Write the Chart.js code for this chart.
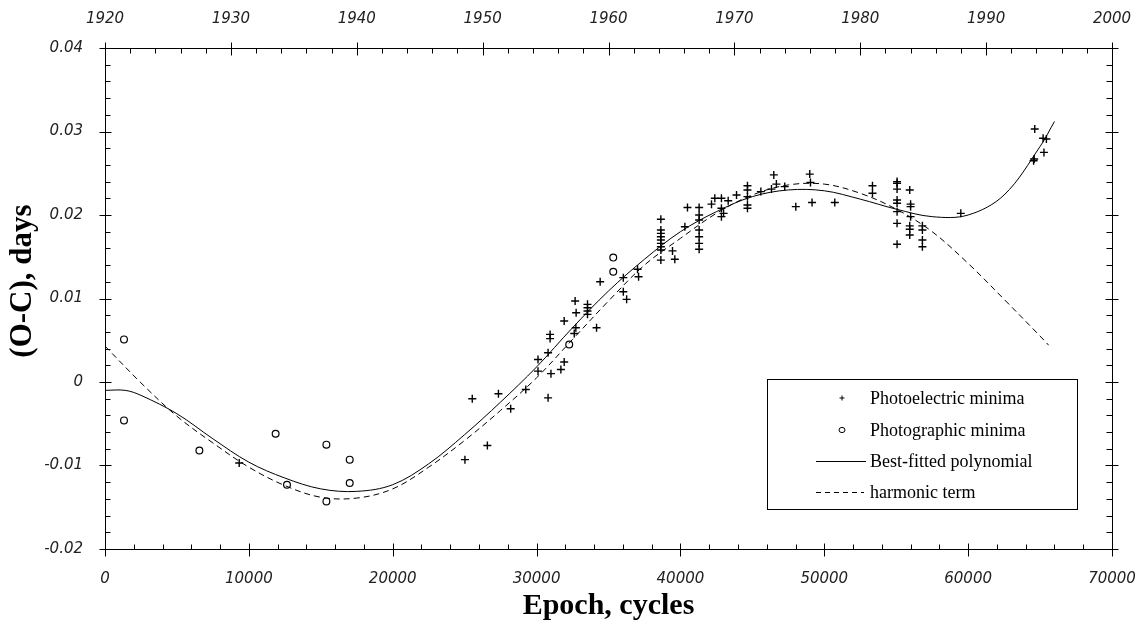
<!DOCTYPE html>
<html lang="en">
<head>
<meta charset="utf-8">
<title>(O-C) diagram</title>
<script src="https://cdn.jsdelivr.net/npm/chart.js@4.4.1/dist/chart.umd.min.js"></script>
<style>
    html, body { margin: 0; padding: 0; background: #fff; }
    #wrap { width: 1140px; height: 634px; }
</style>
</head>
<body>
<div id="wrap"><canvas id="oc-chart"></canvas></div>
<script>
'use strict';

/* ── Photoelectric minima (epoch, O-C in days) ── */
const PE_EPOCH = [
    9330, 25020, 25530, 26580, 27350, 28200, 29250, 30100, 30100, 30800,
    30800, 30940, 30940, 31000, 31690, 31920, 31920, 32620, 32730, 32680,
    32750, 33540, 33540, 33540, 33540, 34170, 34420, 36030, 36030, 36260,
    37020, 37090, 38640, 38640, 38640, 38640, 38640, 38640, 38640, 38640,
    38640, 39450, 39610, 40310, 40490, 41300, 41300, 41300, 41300, 41300,
    41300, 41300, 42160, 42390, 42850, 42850, 42850, 43000, 43320, 43900,
    44660, 44660, 44660, 44660, 44660, 45590, 46330, 46490, 46670, 47250,
    48020, 48990, 49040, 49150, 50730, 53350, 53350, 55060, 55060, 55060,
    55060, 55060, 55060, 55060, 55060, 55940, 56000, 56000, 56000, 55940,
    55940, 55940, 56820, 56820, 56820, 56820, 59490, 64630, 64590, 64550,
    65210, 65440, 65270,
];
const PE_OC = [
    -0.0097, -0.0093, -0.0020, -0.0076, -0.0014, -0.0032, -0.0009, 0.0027, 0.0013, 0.0035,
    -0.0019, 0.0057, 0.0052, 0.0010, 0.0015, 0.0024, 0.0073, 0.0058, 0.0065, 0.0097,
    0.0083, 0.0093, 0.0089, 0.0085, 0.0081, 0.0065, 0.0120, 0.0125, 0.0108, 0.0099,
    0.0135, 0.0126, 0.0195, 0.0182, 0.0178, 0.0174, 0.0170, 0.0166, 0.0162, 0.0158,
    0.0146, 0.0157, 0.0147, 0.0186, 0.0209, 0.0209, 0.0200, 0.0194, 0.0182, 0.0174,
    0.0166, 0.0159, 0.0213, 0.0220, 0.0220, 0.0208, 0.0198, 0.0202, 0.0217, 0.0224,
    0.0235, 0.0230, 0.0222, 0.0212, 0.0208, 0.0228, 0.0231, 0.0248, 0.0237, 0.0234,
    0.0210, 0.0249, 0.0239, 0.0215, 0.0215, 0.0235, 0.0226, 0.0240, 0.0238, 0.0231,
    0.0218, 0.0214, 0.0204, 0.0190, 0.0165, 0.0230, 0.0213, 0.0210, 0.0198, 0.0187,
    0.0183, 0.0176, 0.0187, 0.0182, 0.0170, 0.0162, 0.0202, 0.0303, 0.0267, 0.0265,
    0.0292, 0.0291, 0.0275,
];

/* ── Photographic minima ── */
const PG_EPOCH = [1320, 1320, 6560, 11860, 12650, 15390, 15390, 17010, 17010, 32270, 35330, 35330];
const PG_OC = [0.0051, -0.0046, -0.0082, -0.0062, -0.0123, -0.0075, -0.0143, -0.0093, -0.0121, 0.0045, 0.0149, 0.0132];

/* ── Best-fitted polynomial ── */
const FIT_EPOCH = [
    0, 1400, 2500, 5000, 7500, 10000, 12500, 15000, 17500, 20000, 22500, 25000, 27500, 30000, 32500,
    35000, 37500, 40000, 42500, 45000, 47500, 50000, 52500, 55000, 57500, 60000, 62500, 65000, 66000,
];
const FIT_OC = [
    -0.0010, -0.0010, -0.0016, -0.0038, -0.0068, -0.0096, -0.0115, -0.0128, -0.0131, -0.0123, -0.0098, -0.0063, -0.0024, 0.0018, 0.0065,
    0.0109, 0.0147, 0.0180, 0.0204, 0.0222, 0.0230, 0.0229, 0.0219, 0.0207, 0.0198, 0.0200, 0.0224, 0.0282, 0.0312,
];

/* ── Harmonic term ── */
const HARM_EPOCH = [
    0, 2500, 5000, 7500, 10000, 12500, 15000, 17500, 20000, 22500, 25000, 27500, 30000, 32500,
    35000, 37500, 40000, 42500, 45000, 47500, 50000, 52500, 55000, 57500, 60000, 62500, 65000, 65600,
];
const HARM_OC = [
    0.0043, -0.0001, -0.0041, -0.0073, -0.0102, -0.0124, -0.0138, -0.0139, -0.0128, -0.0102, -0.0070, -0.0034, 0.0005, 0.0051,
    0.0097, 0.0140, 0.0172, 0.0202, 0.0224, 0.0236, 0.0237, 0.0226, 0.0207, 0.0180, 0.0142, 0.0099, 0.0055, 0.0044,
];

/* ── Axis ranges ── */
const EPOCH_RANGE = [0, 70000];
const OC_RANGE = [-0.02, 0.04];
const YEAR_RANGE = [1920, 2000];

const LEGEND_LABELS = ['Photoelectric minima', 'Photographic minima', 'Best-fitted polynomial', 'harmonic term'];

const INK = '#000';
const TICK_FONT = { family: "'DejaVu Sans', sans-serif", style: 'italic', size: 15 };
const SERIF = "'Liberation Serif', 'Times New Roman', serif";

const toPoints = (xs, ys) => xs.map((x, i) => ({ x, y: ys[i] }));

// horizontal scales: fixed height, no automatic side padding for edge labels
const fixHorizontal = height => s => {
    s.height = height;
    s.paddingLeft = 0;
    s.paddingRight = 0;
};

/* ── Frame, minor ticks, axis titles and boxed legend ── */
const framePlugin = {
    id: 'frame',
    afterDraw(chart) {
        const { ctx, chartArea: a, scales } = chart;
        const line = (x1, y1, x2, y2) => {
            ctx.beginPath();
            ctx.moveTo(x1, y1);
            ctx.lineTo(x2, y2);
            ctx.stroke();
        };
        const snap = v => Math.round(v) + 0.5;

        ctx.save();
        ctx.strokeStyle = INK;
        ctx.lineWidth = 1;
        const L = snap(a.left), R = snap(a.right), T = snap(a.top), B = snap(a.bottom);
        ctx.strokeRect(L, T, R - L, B - T);

        // bottom: epochs, minor every 2000
        for (let v = EPOCH_RANGE[0]; v <= EPOCH_RANGE[1]; v += 2000) {
            const px = snap(scales.x.getPixelForValue(v));
            if (v % 10000 === 0) line(px, B - 6, px, B + 7);
            else line(px, B - 5, px, B);
        }
        // top: years, minor every 2
        for (let yr = YEAR_RANGE[0]; yr <= YEAR_RANGE[1]; yr += 2) {
            const px = snap(scales.top.getPixelForValue(yr));
            if (yr % 10 === 0) line(px, T - 6, px, T + 7);
            else line(px, T, px, T + 5);
        }
        // left + right: O-C, minor every 0.002
        for (let i = -10; i <= 20; i++) {
            const py = snap(scales.y.getPixelForValue(i * 0.002));
            if (i % 5 === 0) {
                line(L - 6, py, L + 6, py);
                line(R - 7, py, R + 6, py);
            } else {
                line(L, py, L + 5, py);
                line(R - 6, py, R, py);
            }
        }

        // axis titles
        ctx.fillStyle = INK;
        ctx.font = `bold 30px ${SERIF}`;
        ctx.textAlign = 'center';
        ctx.textBaseline = 'middle';
        ctx.fillText('Epoch, cycles', (a.left + a.right) / 2, 606);
        ctx.save();
        ctx.translate(23, 281);
        ctx.rotate(-Math.PI / 2);
        ctx.font = `bold 31px ${SERIF}`;
        ctx.fillText('(O-C), days', 0, 0);
        ctx.restore();

        // legend box
        ctx.strokeRect(767.5, 379.5, 310, 130);
        const rows = [398, 430, 461, 492];
        ctx.font = `18px ${SERIF}`;
        ctx.textAlign = 'left';
        LEGEND_LABELS.forEach((label, i) => ctx.fillText(label, 870, rows[i] + 1));

        line(839.5, rows[0], 844.5, rows[0]);
        line(842, rows[0] - 2.5, 842, rows[0] + 2.5);
        ctx.beginPath();
        ctx.ellipse(842, rows[1], 3, 2.6, 0, 0, Math.PI * 2);
        ctx.stroke();
        line(816, snap(rows[2]), 866, snap(rows[2]));
        ctx.setLineDash([5, 4]);
        line(816, snap(rows[3]), 864, snap(rows[3]));
        ctx.setLineDash([]);
        ctx.restore();
    },
};

/* ── Chart ── */
new Chart(document.getElementById('oc-chart'), {
    type: 'scatter',
    data: {
        datasets: [
            {
                label: LEGEND_LABELS[0],
                data: toPoints(PE_EPOCH, PE_OC),
                pointStyle: 'cross',
                pointRadius: 4,
                borderColor: INK,
                borderWidth: 1.4,
                order: 1,
            },
            {
                label: LEGEND_LABELS[1],
                data: toPoints(PG_EPOCH, PG_OC),
                pointStyle: 'circle',
                pointRadius: 3.4,
                borderColor: INK,
                backgroundColor: 'rgba(255,255,255,0)',
                borderWidth: 1.2,
                order: 1,
            },
            {
                label: LEGEND_LABELS[2],
                data: toPoints(FIT_EPOCH, FIT_OC),
                showLine: true,
                pointRadius: 0,
                borderColor: INK,
                borderWidth: 1,
                tension: 0.35,
                order: 2,
            },
            {
                label: LEGEND_LABELS[3],
                data: toPoints(HARM_EPOCH, HARM_OC),
                showLine: true,
                pointRadius: 0,
                borderColor: INK,
                borderWidth: 1,
                borderDash: [6, 4],
                tension: 0.35,
                order: 2,
            },
        ],
    },
    options: {
        responsive: true,
        maintainAspectRatio: false,
        animation: false,
        layout: { padding: { left: 0, right: 28, top: 0, bottom: 0 } },
        plugins: {
            legend: { display: false },
            tooltip: { enabled: false },
        },
        scales: {
            x: {
                type: 'linear',
                position: 'bottom',
                min: EPOCH_RANGE[0],
                max: EPOCH_RANGE[1],
                grid: { display: false, drawTicks: false },
                border: { display: false },
                ticks: {
                    stepSize: 10000,
                    padding: 21,
                    maxRotation: 0,
                    color: '#222',
                    font: TICK_FONT,
                    callback: v => String(v),
                },
                afterFit: fixHorizontal(85),
            },
            top: {
                type: 'linear',
                axis: 'x',
                position: 'top',
                min: YEAR_RANGE[0],
                max: YEAR_RANGE[1],
                grid: { display: false, drawTicks: false },
                border: { display: false },
                ticks: {
                    stepSize: 10,
                    padding: 20,
                    maxRotation: 0,
                    color: '#222',
                    font: TICK_FONT,
                    callback: v => String(v),
                },
                afterFit: fixHorizontal(48),
            },
            y: {
                type: 'linear',
                min: OC_RANGE[0],
                max: OC_RANGE[1],
                grid: { display: false, drawTicks: false },
                border: { display: false },
                ticks: {
                    stepSize: 0.01,
                    padding: 22,
                    color: '#222',
                    font: TICK_FONT,
                    callback: v => (Math.abs(v) < 1e-9 ? '0' : v.toFixed(2)),
                },
                afterFit: s => { s.width = 105; },
            },
        },
    },
    plugins: [framePlugin],
});
</script>
</body>
</html>
